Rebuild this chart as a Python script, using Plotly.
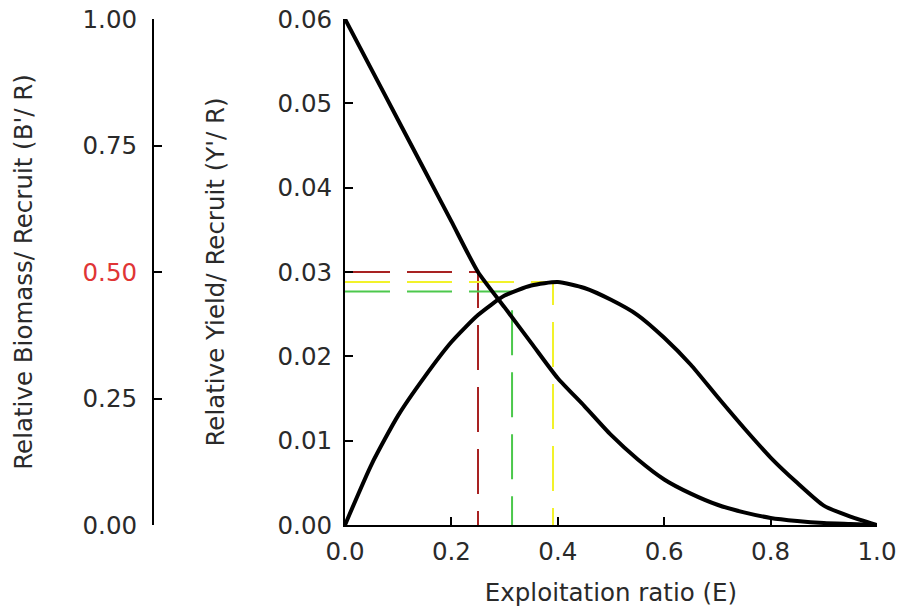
import plotly.graph_objects as go

# ---- data ----
E = [0.00, 0.05, 0.10, 0.15, 0.20, 0.25, 0.30, 0.35, 0.40, 0.45, 0.50,
     0.55, 0.60, 0.65, 0.70, 0.75, 0.80, 0.85, 0.90, 0.95, 1.00]
biomass_per_recruit = [1.00, 0.90, 0.80, 0.70, 0.60, 0.50, 0.43, 0.36, 0.29, 0.235, 0.178,
                       0.13, 0.09, 0.062, 0.040, 0.025, 0.014, 0.008, 0.004, 0.002, 0.0]
yield_per_recruit = [0.0, 0.0072, 0.0130, 0.0176, 0.0217, 0.0249, 0.0272, 0.0284, 0.0288, 0.0281, 0.0267,
                     0.0249, 0.0222, 0.0190, 0.0152, 0.0115, 0.0080, 0.0050, 0.0023, 0.0010, 0.0]

ref_names = ["E50", "E0.1", "Emax"]
ref_E = [0.25, 0.314, 0.391]
ref_Y = [0.0300, 0.0277, 0.0288]
ref_colors = ["#A82222", "#4CC84C", "#F2F22A"]

left_tickvals = [0.0, 0.25, 0.50, 0.75, 1.00]
left_ticktext = ["0.00", "0.25", "<span style='color:#E03535'>0.50</span>", "0.75", "1.00"]

FONT = "DejaVu Sans"
TXT = "#2a2a2a"
FS = 24.5

fig = go.Figure()

# dashed reference lines (drawn first, below the curves)
for name, ex, yy, col in zip(ref_names, ref_E, ref_Y, ref_colors):
    fig.add_trace(go.Scatter(
        x=[0, ex, ex], y=[yy, yy, 0], mode="lines", name=name,
        line=dict(color=col, width=2, dash="45px,17px"),
        xaxis="x", yaxis="y", showlegend=False, hoverinfo="skip"))

fig.add_trace(go.Scatter(x=E, y=yield_per_recruit, mode="lines", name="Y'/R",
                         line=dict(color="black", width=4, shape="spline", smoothing=0.6),
                         xaxis="x", yaxis="y", showlegend=False))
fig.add_trace(go.Scatter(x=E, y=biomass_per_recruit, mode="lines", name="B'/R",
                         line=dict(color="black", width=4, shape="spline", smoothing=0.6),
                         xaxis="x", yaxis="y2", showlegend=False))

axis_common = dict(showgrid=False, zeroline=False, showline=True, linecolor="black",
                   linewidth=2, ticks="inside", ticklen=8, tickwidth=2, tickcolor="black",
                   automargin=False, ticklabeloverflow="allow",
                   tickfont=dict(family=FONT, size=FS, color=TXT))

fig.update_layout(
    width=901, height=610,
    margin=dict(l=153, r=24, t=19, b=85, autoexpand=False),
    paper_bgcolor="white", plot_bgcolor="white",
    font=dict(family=FONT, size=FS, color=TXT),
    xaxis=dict(domain=[192 / 724, 1], range=[0, 1], tickvals=[0, 0.2, 0.4, 0.6, 0.8, 1.0],
               tickformat=".1f", ticklabelstandoff=4,
               title=dict(text="Exploitation ratio (E)", standoff=18,
                          font=dict(family=FONT, size=FS, color=TXT)),
               **axis_common),
    yaxis=dict(range=[0, 0.06], tickvals=[0, 0.01, 0.02, 0.03, 0.04, 0.05, 0.06],
               tickformat=".2f", anchor="x", ticklabelstandoff=6,
               title=dict(text="Relative Yield/ Recruit (Y'/ R)", standoff=46,
                          font=dict(family=FONT, size=FS, color=TXT)),
               **axis_common),
    yaxis2=dict(range=[0, 1], tickvals=left_tickvals, ticktext=left_ticktext,
                overlaying="y", anchor="free", position=0, side="left",
                ticklabelstandoff=10,
                title=dict(text="Relative Biomass/ Recruit (B'/ R)", standoff=42,
                           font=dict(family=FONT, size=FS, color=TXT)),
                **axis_common),
)

# remove the default 8px page margin so the figure fills the window exactly
fig.write_html("out.html",
               config={"displayModeBar": False},
               post_script="document.body.style.margin='0px';document.body.style.overflow='hidden';")
